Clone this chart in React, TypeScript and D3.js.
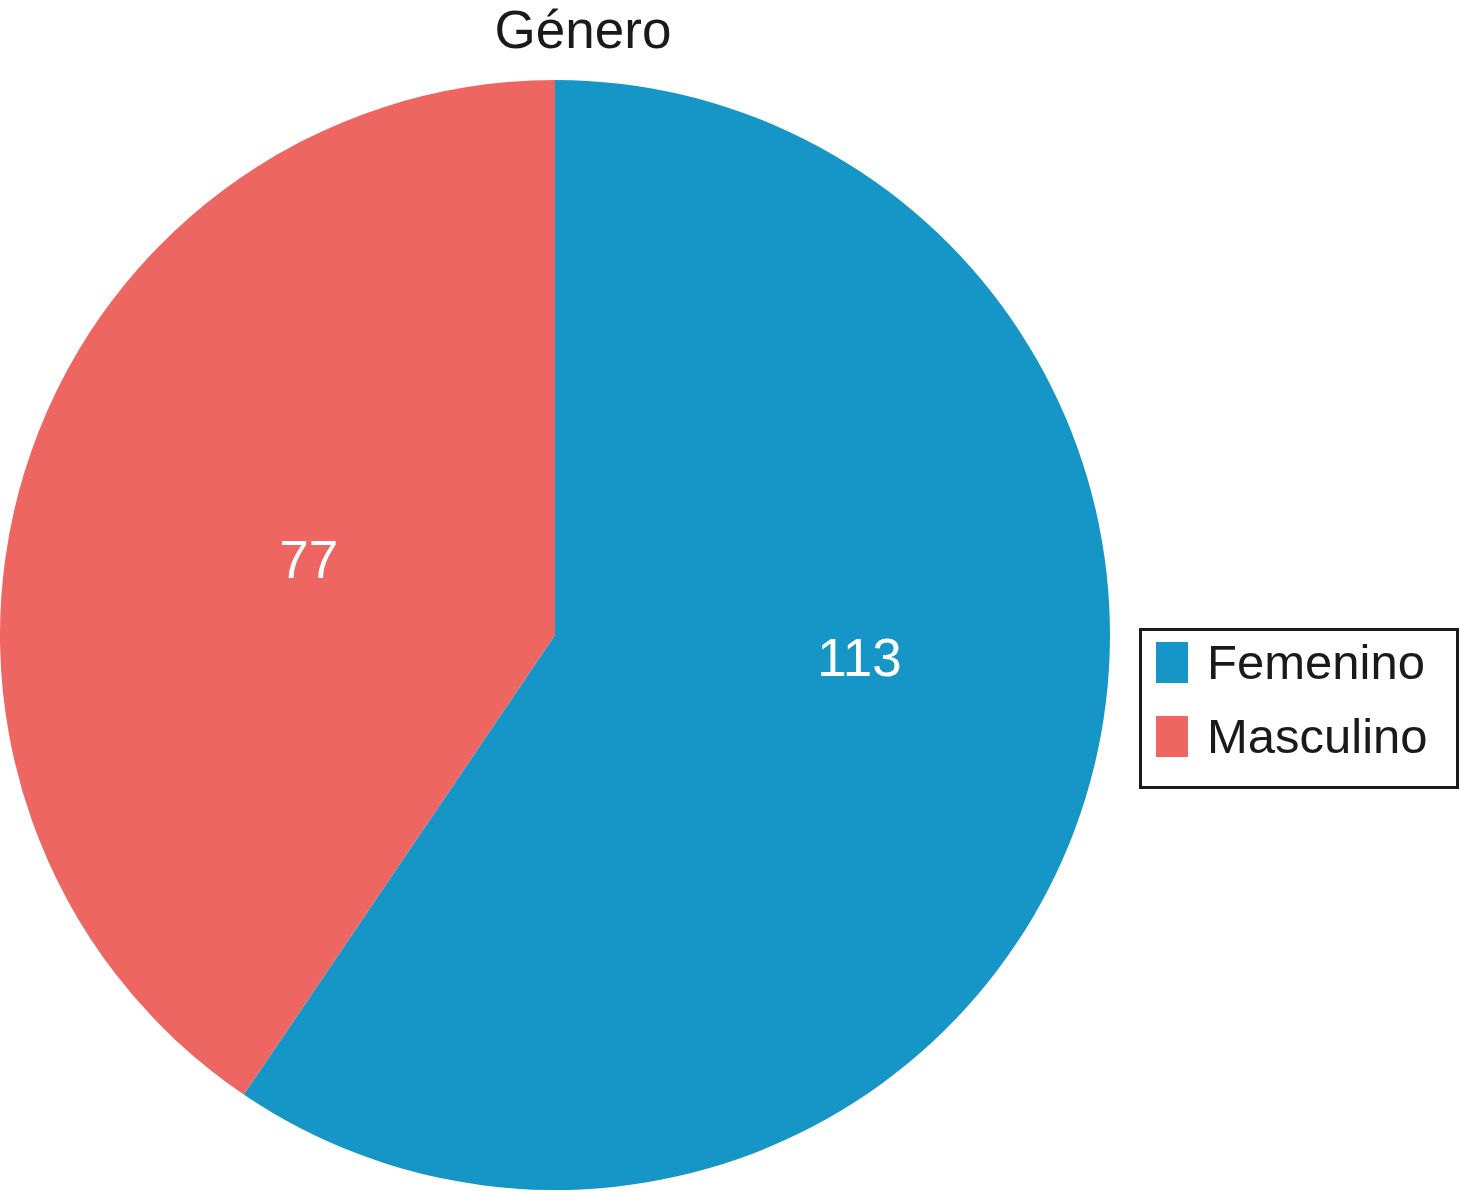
import React from "react";
import * as d3 from "d3";

const title = "Género";
const categories = ["Femenino", "Masculino"];
const values = [113, 77];
const colors = ["#1596C6", "#EE6661"];
// position of each value label within its slice: fraction of the slice's angle, fraction of radius
const labelAngleFrac = [0.44, 0.5];
const labelRadiusFrac = [0.55, 0.464];

export default function App() {
  const width = 1460;
  const height = 1191;
  const cx = 555;
  const cy = 635;
  const r = 555;

  const pie = d3.pie<number>().sort(null).value((d) => d)(values);
  const arc = d3.arc<d3.PieArcDatum<number>>().innerRadius(0).outerRadius(r);

  const font = "'Liberation Sans', Arial, Helvetica, sans-serif";

  return (
    <svg
      width={width}
      height={height}
      style={{ position: "absolute", left: 0, top: 0, background: "#fff" }}
      fontFamily={font}
    >
      <rect width={width} height={height} fill="#fff" />
      <text x={583} y={48} textAnchor="middle" fontSize={53} fill="#1a1a1a">
        {title}
      </text>
      <g transform={`translate(${cx},${cy})`}>
        {pie.map((p, i) => (
          <path key={i} d={arc(p) || ""} fill={colors[i]} />
        ))}
        {pie.map((p, i) => {
          const a = p.startAngle + (p.endAngle - p.startAngle) * labelAngleFrac[i];
          const rr = r * labelRadiusFrac[i];
          const x = rr * Math.sin(a);
          const y = -rr * Math.cos(a);
          return (
            <text
              key={"l" + i}
              x={x}
              y={y}
              textAnchor="middle"
              dominantBaseline="central"
              fontSize={53}
              fill="#fff"
            >
              {values[i]}
            </text>
          );
        })}
      </g>
      <g>
        <rect x={1140.5} y={629.5} width={317} height={158} fill="#fff" stroke="#1a1a1a" strokeWidth={3} />
        {categories.map((c, i) => (
          <g key={c} transform={`translate(0,${i * 74})`}>
            <rect x={1156} y={642} width={32} height={41} fill={colors[i]} />
            <text x={1207} y={679} fontSize={49} fill="#1a1a1a">
              {c}
            </text>
          </g>
        ))}
      </g>
    </svg>
  );
}
